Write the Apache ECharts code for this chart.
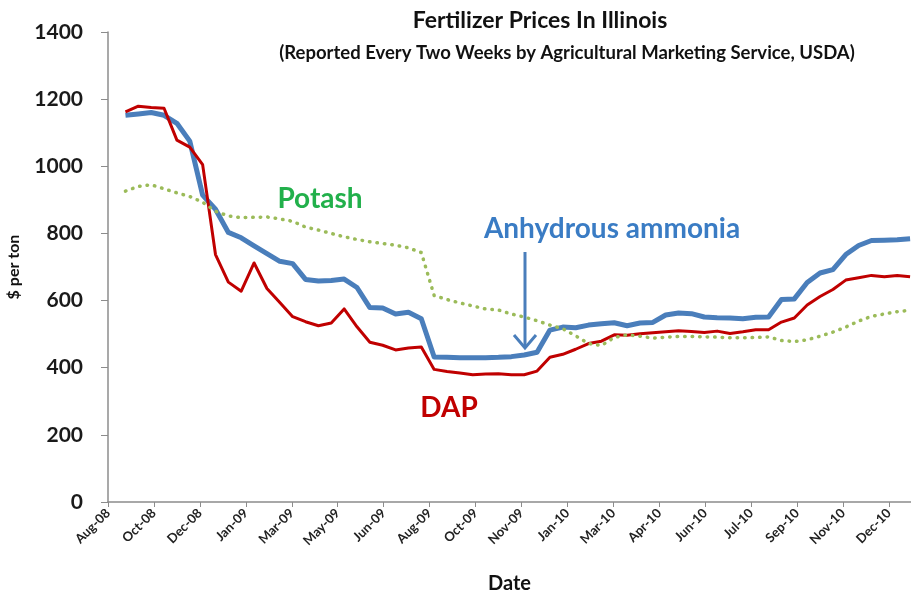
<!DOCTYPE html>
<html>
<head>
<meta charset="utf-8">
<script src="https://cdn.jsdelivr.net/npm/echarts@6/dist/echarts.min.js"></script>
<style>
html,body{margin:0;padding:0;background:#fff;}
#chart{width:911px;height:597px;}
</style>
</head>
<body>
<div id="chart"></div>
<script>
// Biweekly report dates
var dates = [
'2008-09-18','2008-10-02','2008-10-16','2008-10-30','2008-11-13','2008-11-27','2008-12-11','2008-12-25',
'2009-01-08','2009-01-22','2009-02-05','2009-02-19','2009-03-05','2009-03-19','2009-04-02','2009-04-16',
'2009-04-30','2009-05-14','2009-05-28','2009-06-11','2009-06-25','2009-07-09','2009-07-23','2009-08-06',
'2009-08-20','2009-09-03','2009-09-17','2009-10-01','2009-10-15','2009-10-29','2009-11-12','2009-11-26',
'2009-12-10','2009-12-24','2010-01-07','2010-01-21','2010-02-04','2010-02-18','2010-03-04','2010-03-18',
'2010-04-01','2010-04-15','2010-04-29','2010-05-13','2010-05-27','2010-06-10','2010-06-24','2010-07-08',
'2010-07-22','2010-08-05','2010-08-19','2010-09-02','2010-09-16','2010-09-30','2010-10-14','2010-10-28',
'2010-11-11','2010-11-25','2010-12-09','2010-12-23','2011-01-06','2011-01-20'
];
var ammonia = [1152,1156,1160,1152,1128,1075,914,872,803,787,763,740,717,710,663,658,
660,664,639,579,578,560,565,546,432,431,430,430,430,431,433,438,
446,512,521,519,527,531,534,525,533,535,557,563,561,551,549,548,
546,550,551,603,605,654,682,692,737,764,779,780,781,784];
var dap = [1162,1179,1175,1173,1078,1057,1005,737,655,628,712,636,594,552,537,525,
533,575,522,476,467,453,459,462,395,389,384,379,381,382,379,379,
390,431,440,455,472,479,498,497,501,504,507,510,508,505,509,502,
507,513,513,536,548,587,612,633,661,668,675,671,675,671];
var potash = [926,940,945,933,921,910,893,866,852,847,848,849,843,836,819,810,
800,790,782,775,770,765,757,743,615,603,593,584,575,572,560,551,
540,527,516,495,472,466,490,498,494,488,491,493,493,492,491,489,
489,490,492,481,478,483,494,506,521,539,553,560,567,571];
var tickLabels = ['Aug-08','Oct-08','Dec-08','Jan-09','Mar-09','May-09','Jun-09','Aug-09','Oct-09',
'Nov-09','Jan-10','Mar-10','Apr-10','Jun-10','Jul-10','Sep-10','Nov-10','Dec-10'];
var yTicks = [0,200,400,600,800,1000,1200,1400];

var axisStart = Date.UTC(2008,7,30);
var tickStep = 50; // days between axis labels
function dayOf(d){ return (Date.parse(d) - axisStart) / 86400000; }
function pairs(vals){ return vals.map(function(v,i){ return [dayOf(dates[i]), v]; }); }
var tickVals = tickLabels.map(function(_,i){ return i*tickStep; });

var FONT = 'Lato, "Open Sans", sans-serif';
var chart = echarts.init(document.getElementById('chart'), null, {renderer:'canvas'});
chart.setOption({
  animation:false,
  backgroundColor:'#fff',
  grid:{left:108, right:0, top:32, bottom:95, containLabel:false, outerBoundsMode:'none'},
  xAxis:{
    type:'value', min:0, max:874, interval:tickStep,
    name:'Date', nameLocation:'middle', nameGap:72,
    nameTextStyle:{fontFamily:FONT, fontWeight:'bold', fontSize:20, color:'#111'},
    splitLine:{show:false},
    axisLine:{show:true, lineStyle:{color:'#8c8c8c', width:1.5}},
    axisTick:{show:true, length:5, lineStyle:{color:'#8c8c8c'}, customValues:tickVals},
    axisLabel:{rotate:45, margin:9, fontFamily:FONT, fontWeight:'bold', fontSize:13, color:'#222',
      customValues:tickVals,
      formatter:function(v){ var i=Math.round(v/tickStep); return tickLabels[i]||''; }}
  },
  yAxis:{
    type:'value', min:0, max:1400, interval:200,
    name:'$ per ton', nameLocation:'middle', nameGap:86,
    nameTextStyle:{fontFamily:FONT, fontWeight:'bold', fontSize:16, color:'#111'},
    splitLine:{show:false},
    axisLine:{show:true, lineStyle:{color:'#8c8c8c', width:1.5}},
    axisTick:{show:true, length:7, inside:false, lineStyle:{color:'#8c8c8c'}},
    axisLabel:{margin:25, fontFamily:FONT, fontWeight:'bold', fontSize:21, color:'#1a1a1a',
      customValues:yTicks, formatter:function(v){ return String(v); }}
  },
  series:[
    {name:'Anhydrous ammonia', type:'line', data:pairs(ammonia), showSymbol:false, symbol:'none',
     lineStyle:{color:'#4a7ebb', width:5, join:'round'}, z:2},
    {name:'DAP', type:'line', data:pairs(dap), showSymbol:false, symbol:'none',
     lineStyle:{color:'#c00000', width:3, join:'round'}, z:3},
    {name:'Potash', type:'line', data:pairs(potash), showSymbol:false, symbol:'none',
     lineStyle:{color:'#9bbb59', width:3.5, type:[0.5,7], cap:'round'}, z:4}
  ],
  graphic:[
    {type:'text', style:{x:540, y:21, text:'Fertilizer Prices In Illinois', textAlign:'center', textVerticalAlign:'middle',
      font:'bold 23px '+FONT, fill:'#111'}},
    {type:'text', style:{x:567, y:53, text:'(Reported Every Two Weeks by Agricultural Marketing Service, USDA)', textAlign:'center', textVerticalAlign:'middle',
      font:'bold 18.5px '+FONT, fill:'#111'}},
    {type:'text', style:{x:320, y:199, text:'Potash', textAlign:'center', textVerticalAlign:'middle',
      font:'bold 28px '+FONT, fill:'#22b04b'}},
    {type:'text', style:{x:612, y:229, text:'Anhydrous ammonia', textAlign:'center', textVerticalAlign:'middle',
      font:'bold 28px '+FONT, fill:'#3a7cc4'}},
    {type:'text', style:{x:449, y:408, text:'DAP', textAlign:'center', textVerticalAlign:'middle',
      font:'bold 28px '+FONT, fill:'#c00000'}},
    {type:'line', shape:{x1:525, y1:252, x2:525, y2:348}, style:{stroke:'#4a7ebb', lineWidth:3}},
    {type:'polyline', shape:{points:[[514,335],[525,348],[536,335]]}, style:{stroke:'#4a7ebb', lineWidth:3, fill:null, lineJoin:'miter'}}
  ]
});
</script>
</body>
</html>
